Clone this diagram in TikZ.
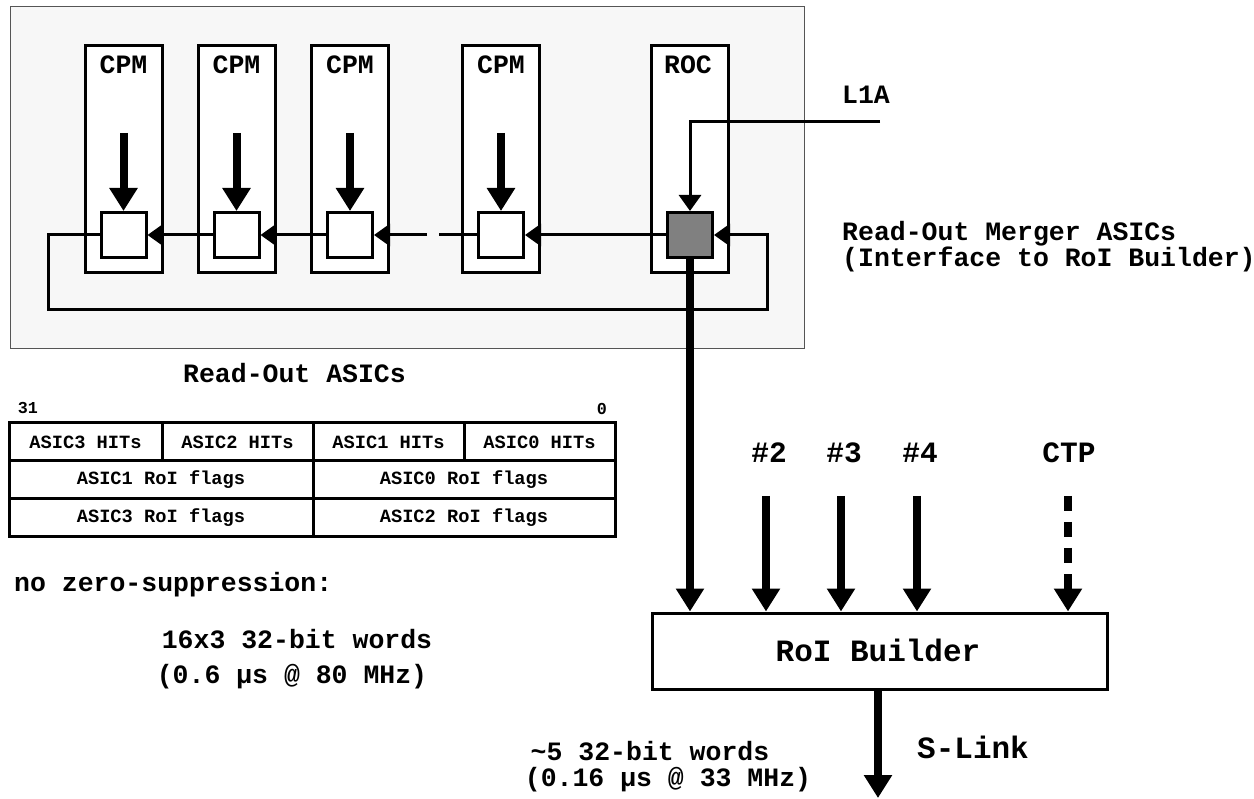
\documentclass[tikz,border=0pt]{standalone}
\usepackage{fontspec}
\setmonofont{Liberation Mono}
\usetikzlibrary{arrows.meta}
\newcommand\myfs[1]{\ttfamily\bfseries\fontsize{#1}{#1}\selectfont}
\definecolor{panel}{HTML}{F7F7F7}
\definecolor{panelline}{HTML}{555555}
\definecolor{merger}{HTML}{808080}
\begin{document}
\begin{tikzpicture}[x=1pt,y=-1pt,
  txt/.style={font=\myfs{26.5}, inner sep=0pt},
  bigtxt/.style={font=\myfs{31}, inner sep=0pt},
  lbltxt/.style={font=\myfs{29.5}, inner sep=0pt},
  tabtxt/.style={font=\myfs{18.7}, inner sep=0pt},
  bittxt/.style={font=\myfs{16.7}, inner sep=0pt},
  module/.style={draw, line width=3pt, fill=white, minimum width=77pt, minimum height=227pt, inner sep=0pt},
  asic/.style={draw, line width=3pt, fill=white, minimum width=45pt, minimum height=45pt, inner sep=0pt},
  cell/.style={draw, line width=3pt, minimum height=38pt, inner sep=0pt, font=\myfs{18.7}},
  bigarrow/.style={line width=8pt, -{Triangle[length=23pt,width=27pt]}},
  chainarrow/.style={line width=3pt, -{Triangle[length=16pt,width=22pt]}},
  chainline/.style={line width=3pt}
]
\useasboundingbox (0,0) rectangle (1254,799);

% panel
\draw[fill=panel, draw=panelline, line width=1pt] (10,7) rectangle (804,349);

% modules
\node[module] (m1) at (123.5,159.5) {};
\node[module] (m2) at (236.5,159.5) {};
\node[module] (m3) at (350,159.5) {};
\node[module] (m4) at (501,159.5) {};
\node[module] (mr) at (690,159.5) {};
\node[txt] (t1) at (123.5,65) {CPM};
\node[txt] (t2) at (236.5,65) {CPM};
\node[txt] (t3) at (350,65) {CPM};
\node[txt] (t4) at (501,65) {CPM};
\node[txt] (tr) at (688,65) {ROC};

% ASICs
\node[asic] (s1) at (123.5,235) {};
\node[asic] (s2) at (236.5,235) {};
\node[asic] (s3) at (350,235) {};
\node[asic] (s4) at (501,235) {};
\node[asic, fill=merger] (sr) at (690,235) {};

% CPM inputs
\coordinate (i1) at (123.5,133);
\coordinate (i2) at (236.5,133);
\coordinate (i3) at (350,133);
\coordinate (i4) at (501,133);
\foreach \k in {1,2,3,4} \draw[bigarrow] (i\k) -- (s\k.north);

% read-out chain
\draw[chainarrow] (sr.west) -- (s4.east);
\coordinate (gr) at (439,235);
\coordinate (gl) at (427,235);
\draw[chainline] (s4.west) -- (gr);
\draw[chainarrow] (gl) -- (s3.east);
\draw[chainarrow] (s3.west) -- (s2.east);
\draw[chainarrow] (s2.west) -- (s1.east);
\coordinate (l1) at (48,235);
\coordinate (l2) at (48,310);
\coordinate (l3) at (767,310);
\coordinate (l4) at (767,235);
\draw[chainarrow] (s1.west) -- (l1) -- (l2) -- (l3) -- (l4) -- (sr.east);

% L1A
\coordinate (la) at (880,122);
\coordinate (lc) at (690,122);
\draw[chainarrow] (la) -- (lc) -- (sr.north);
\node[txt] (l1a) at (866,95) {L1A};
\node[font=\ttfamily\bfseries\fontsize{26.5}{22}\selectfont, inner sep=0pt, anchor=west, align=left] (rom) at (842,247) {Read-Out Merger ASICs\\(Interface to RoI Builder)};

% RoI builder
\node[draw, line width=3pt, minimum width=455pt, minimum height=76pt, inner sep=0pt] (rb) at (879.5,651) {};
\node[bigtxt] (rbt) at (878,650) {RoI Builder};
\draw[bigarrow] (sr.south) -- (sr.south |- rb.north);
\coordinate (c2) at (766,496);
\coordinate (c3) at (841,496);
\coordinate (c4) at (917,496);
\coordinate (cc) at (1068,496);
\draw[bigarrow] (c2) -- (c2 |- rb.north);
\draw[bigarrow] (c3) -- (c3 |- rb.north);
\draw[bigarrow] (c4) -- (c4 |- rb.north);
\draw[bigarrow, dash pattern=on 15pt off 11pt] (cc) -- (cc |- rb.north);
\node[lbltxt] (h2) at (769,453) {\#2};
\node[lbltxt] (h3) at (844,453) {\#3};
\node[lbltxt] (h4) at (920,453) {\#4};
\node[lbltxt] (hc) at (1069,453) {CTP};

% S-Link
\coordinate (so) at (878,798);
\draw[bigarrow] (rb.south -| so) -- (so);
\node[bigtxt, anchor=west] (slk) at (917,747) {S-Link};
\node[txt] (w5) at (650,751) {\textasciitilde5 32-bit words};
\node[txt] (w5t) at (668,780) {(0.16 µs @ 33 MHz)};

% table
\node[txt] (roa) at (294.5,373) {Read-Out ASICs};
\node[bittxt] (b31) at (28,408) {31};
\node[bittxt] (b0) at (602,409) {0};
\node[cell, minimum width=153pt] (a3h) at (85.5,442) {ASIC3 HITs};
\node[cell, minimum width=151pt] (a2h) at (237.5,442) {ASIC2 HITs};
\node[cell, minimum width=151pt] (a1h) at (388.5,442) {ASIC1 HITs};
\node[cell, minimum width=151pt] (a0h) at (539.5,442) {ASIC0 HITs};
\node[cell, minimum width=304pt] (a1r) at (161,480) {ASIC1 RoI flags};
\node[cell, minimum width=302pt] (a0r) at (464,480) {ASIC0 RoI flags};
\node[cell, minimum width=304pt] (a3r) at (161,518) {ASIC3 RoI flags};
\node[cell, minimum width=302pt] (a2r) at (464,518) {ASIC2 RoI flags};

\node[txt, anchor=west] (nzs) at (14,585) {no zero-suppression:};
\node[txt] (w16) at (297,639) {16x3 32-bit words};
\node[txt] (w16t) at (292,677) {(0.6 µs @ 80 MHz)};
\end{tikzpicture}
\end{document}
